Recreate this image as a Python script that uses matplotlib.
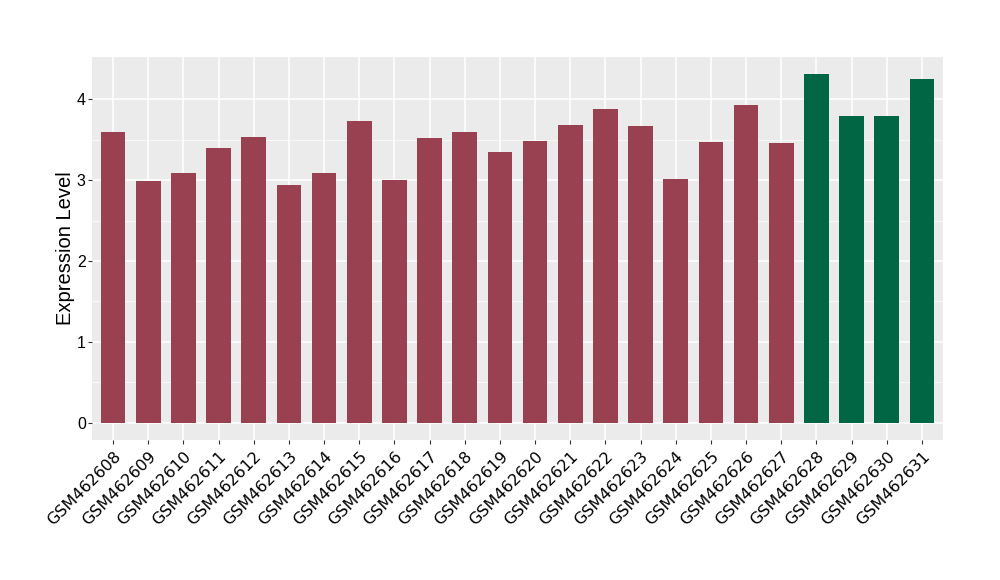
import matplotlib
matplotlib.use("Agg")
import matplotlib.pyplot as plt
import numpy as np

# Data

samples = ["GSM462608", "GSM462609", "GSM462610", "GSM462611", "GSM462612",
           "GSM462613", "GSM462614", "GSM462615", "GSM462616", "GSM462617",
           "GSM462618", "GSM462619", "GSM462620", "GSM462621", "GSM462622",
           "GSM462623", "GSM462624", "GSM462625", "GSM462626", "GSM462627",
           "GSM462628", "GSM462629", "GSM462630", "GSM462631"]
values = [3.59, 2.99, 3.09, 3.40, 3.53, 2.94, 3.09, 3.73, 3.00, 3.52,
          3.60, 3.35, 3.48, 3.68, 3.88, 3.67, 3.01, 3.47, 3.93, 3.46,
          4.31, 3.80, 3.79, 4.25]
groups = ["a"] * 20 + ["b"] * 4
group_colors = {"a": "#994150", "b": "#006644"}

plt.rcParams['font.family'] = ['Liberation Sans', 'DejaVu Sans']

fig = plt.figure(figsize=(10, 5.8), dpi=100)
ax = fig.add_axes([0.092, 0.241, 0.851, 0.661])
ax.set_facecolor("#EBEBEB")

x = np.arange(len(samples))
colors = [group_colors[g] for g in groups]
ax.bar(x, values, width=0.7, color=colors, zorder=3)

# grid like ggplot
ax.set_yticks([0, 1, 2, 3, 4])
ax.set_yticks([0.5, 1.5, 2.5, 3.5], minor=True)
ax.grid(which="major", color="white", linewidth=1.1, zorder=0)
ax.grid(which="minor", axis="y", color="white", linewidth=0.5, zorder=0)
ax.tick_params(which="minor", left=False)

ax.set_xlim(-0.6, len(samples) - 0.4)
ymax = max(values)
ax.set_ylim(-0.05 * ymax, ymax * 1.05)

ax.set_xticks(x)
ax.set_xticklabels(samples, rotation=45, ha="right", va="top",
                   rotation_mode="anchor", fontsize=11.5, color="black",
                   family="DejaVu Sans")
ax.tick_params(axis="y", labelsize=11.5, labelcolor="black", pad=1.5)
ax.tick_params(axis="x", pad=3)
ax.tick_params(which="major", length=3, color="#333333", width=0.8)

for s in ax.spines.values():
    s.set_visible(False)

ax.set_ylabel("Expression Level", fontsize=14.5, labelpad=1)

fig.savefig("out.png", dpi=100)
